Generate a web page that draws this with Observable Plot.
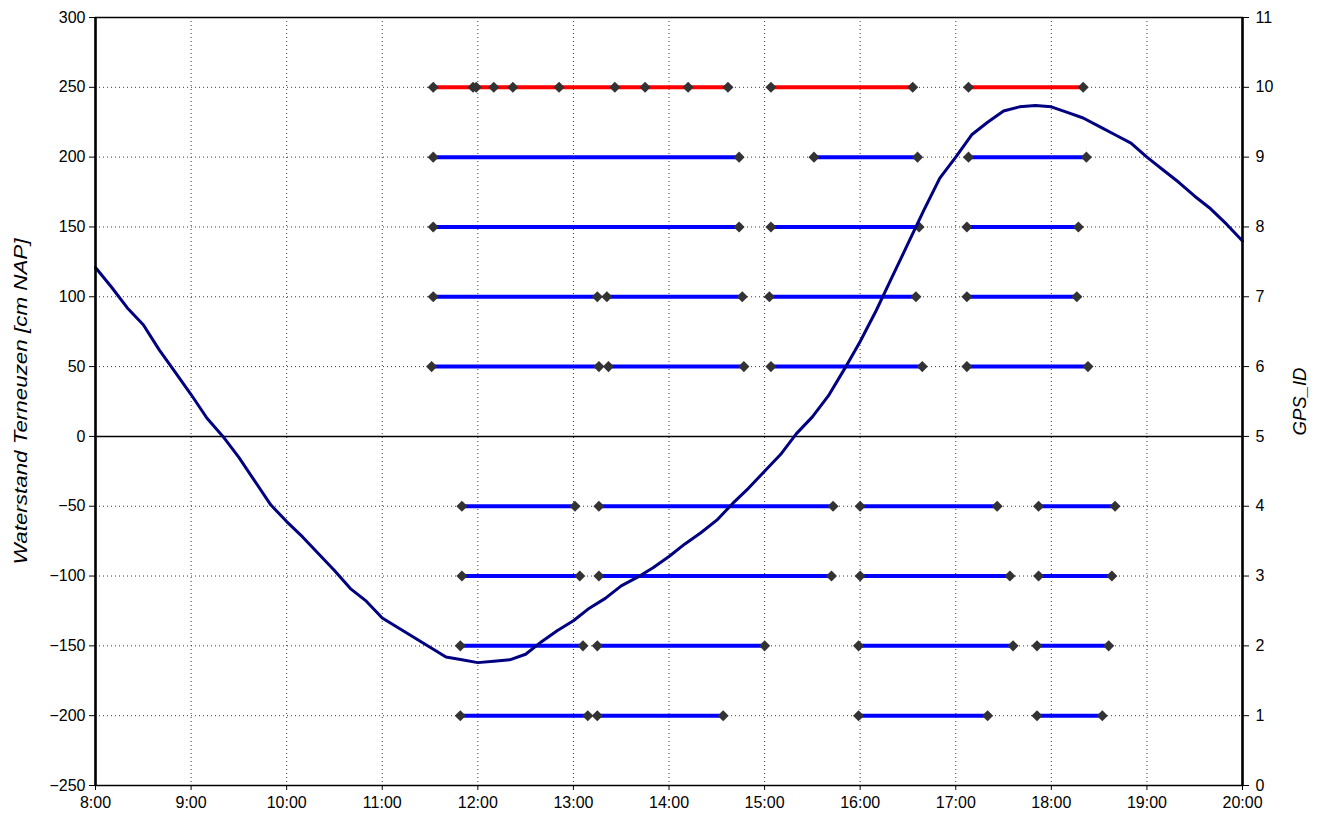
<!DOCTYPE html>
<html><head><meta charset="utf-8">
<script src="https://cdn.jsdelivr.net/npm/d3@7"></script>
<script src="https://cdn.jsdelivr.net/npm/@observablehq/plot@0.6"></script>
<style>body{margin:0;background:#fff} svg{overflow:visible}</style>
</head><body><div id="chart"></div>
<script>
// Water level Terneuzen (cm NAP), every 10 minutes
const tideTimes = ["8:00","8:10","8:20","8:30","8:40","8:50","9:00","9:10","9:20","9:30","9:40","9:50",
  "10:00","10:10","10:20","10:30","10:40","10:50","11:00","11:10","11:20","11:30","11:40","11:50",
  "12:00","12:10","12:20","12:30","12:40","12:50","13:00","13:10","13:20","13:30","13:40","13:50",
  "14:00","14:10","14:20","14:30","14:40","14:50","15:00","15:10","15:20","15:30","15:40","15:50",
  "16:00","16:10","16:20","16:30","16:40","16:50","17:00","17:10","17:20","17:30","17:40","17:50",
  "18:00","18:10","18:20","18:30","18:40","18:50","19:00","19:10","19:20","19:30","19:40","19:50","20:00"];
const waterLevel = [121,107,92,80,62,46,30,13,0,-15,-32,-49,
  -61,-72,-84,-96,-109,-118,-130,-137,-144,-151,-158,-160,
  -162,-161,-160,-156,-147,-139,-132,-123,-116,-107,-101,-94,
  -86,-77,-69,-60,-48,-37,-25,-13,2,14,29,48,
  68,90,114,138,162,185,200,216,225,233,236,237,
  236,232,228,222,216,210,200,191,182,172,163,152,140];

// GPS tracks per GPS_ID (each inner list is one continuous recording, with its logged points)
const gpsIds = [10, 9, 8, 7, 6, 4, 3, 2, 1];
const gpsTracks = {
  10: [["11:32","11:57","11:59","12:10","12:22","12:51","13:26","13:45","14:12","14:37"],["15:04","16:33"],["17:08","18:20"]],
  9:  [["11:32","14:44"],["15:31","16:36"],["17:08","18:22"]],
  8:  [["11:32","14:44"],["15:04","16:37"],["17:07","18:17"]],
  7:  [["11:32","13:15"],["13:21","14:46"],["15:03","16:35"],["17:07","18:16"]],
  6:  [["11:31","13:16"],["13:22","14:47"],["15:04","16:39"],["17:07","18:23"]],
  4:  [["11:50","13:01"],["13:16","15:43"],["16:00","17:26"],["17:52","18:40"]],
  3:  [["11:50","13:04"],["13:16","15:42"],["16:00","17:34"],["17:52","18:38"]],
  2:  [["11:49","13:06"],["13:15","15:00"],["15:59","17:36"],["17:51","18:36"]],
  1:  [["11:49","13:09"],["13:15","14:34"],["15:59","17:20"],["17:51","18:32"]]
};
const highlightId = 10;

const leftTicks = [-250,-200,-150,-100,-50,0,50,100,150,200,250,300];
const hourTicks = [8,9,10,11,12,13,14,15,16,17,18,19,20];
const leftTitle = "Waterstand Terneuzen [cm NAP]";
const rightTitle = "GPS_ID";

const toHours = s => { const [h, m] = s.split(":").map(Number); return h + m / 60; };
// secondary axis: GPS_ID 0..11 maps onto -250..300
const idToLeft = id => (id - 5) * 50;
const leftToId = v => v / 50 + 5;

const tide = tideTimes.map((t, i) => ({t: toHours(t), v: waterLevel[i]}));
const segs = [], pts = [];
for (const id of gpsIds) {
  gpsTracks[id].forEach((track, k) => {
    track.forEach(s => {
      const row = {t: toHours(s), y: idToLeft(id), key: id + "-" + k, red: id === highlightId};
      segs.push(row); pts.push(row);
    });
  });
}

const grid = {stroke: "#3a3a3a", strokeOpacity: 1, strokeWidth: 1, strokeDasharray: "1,3"};

const chart = Plot.plot({
  width: 1324, height: 823,
  marginLeft: 95, marginRight: 82, marginTop: 17, marginBottom: 38,
  style: {fontFamily: "'Liberation Sans', Arial, sans-serif", fontSize: "16px", color: "#000", background: "#fff"},
  x: {domain: [8, 20]},
  y: {domain: [-250, 300]},
  marks: [
    Plot.gridX(hourTicks.slice(1, -1), grid),
    Plot.gridY(leftTicks.filter(v => v !== 0 && v !== 300 && v !== -250), grid),
    Plot.ruleY([0], {stroke: "#000", strokeWidth: 1.5}),
    Plot.line(segs.filter(d => !d.red), {x: "t", y: "y", z: "key", stroke: "#0000ff", strokeWidth: 4}),
    Plot.line(segs.filter(d => d.red), {x: "t", y: "y", z: "key", stroke: "#ff0000", strokeWidth: 4}),
    Plot.dot(pts, {x: "t", y: "y", symbol: "diamond2", r: 5, fill: "#333333", stroke: "none"}),
    Plot.line(tide, {x: "t", y: "v", stroke: "#000080", strokeWidth: 3}),
    Plot.frame({stroke: "#000", strokeWidth: 1.5}),
    Plot.ruleX([8, 20], {stroke: "#000", strokeWidth: 2.5}),
    Plot.axisY(leftTicks, {anchor: "left", tickSize: 6, tickPadding: 4, label: null, fontSize: 16}),
    Plot.axisY(leftTicks, {anchor: "right", tickSize: 6, tickPadding: 7, tickFormat: d => String(leftToId(d)), label: null, fontSize: 16}),
    Plot.axisX(hourTicks, {anchor: "bottom", tickSize: 5, tickPadding: 6, tickFormat: h => h + ":00", label: null, fontSize: 16}),
    Plot.text([leftTitle], {frameAnchor: "left", textAnchor: "middle", text: d => d, rotate: -90, dx: -74, fontStyle: "italic", fontSize: 18, className: "ttl-left"}),
    Plot.text([rightTitle], {frameAnchor: "right", textAnchor: "middle", text: d => d, rotate: -90, dx: 58, fontStyle: "italic", fontSize: 18, className: "ttl-right"})
  ]
});
document.getElementById("chart").appendChild(chart);
// the reference's axis titles are drawn stretched along their length
const stretch = (sel, len) => chart.querySelectorAll(sel + " text").forEach(t => {
  t.setAttribute("textLength", len); t.setAttribute("lengthAdjust", "spacingAndGlyphs");
});
stretch(".ttl-left", 326);
stretch(".ttl-right", 68);
</script></body></html>
